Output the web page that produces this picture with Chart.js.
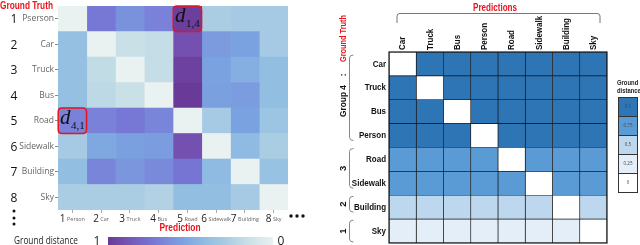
<!DOCTYPE html>
<html>
<head>
<meta charset="utf-8">
<script src="https://cdn.jsdelivr.net/npm/chart.js@4/dist/chart.umd.min.js"></script>
<style>
  html, body { margin: 0; padding: 0; background: #fff; }
  #wrap { position: relative; width: 640px; height: 245px; overflow: hidden; }
  #left { position: absolute; left: 0; top: 0; }
  #right { position: absolute; left: 320px; top: 0; }
</style>
</head>
<body>
<div id="wrap">
  <canvas id="left" width="320" height="245"></canvas>
  <canvas id="right" width="320" height="245"></canvas>
</div>
<script>
// ---------------- LEFT HEATMAP DATA ----------------
const leftRowLabels = ['Pserson', 'Car', 'Truck', 'Bus', 'Road', 'Sidewalk', 'Building', 'Sky'];
const leftColLabels = ['Person', 'Car', 'Truck', 'Bus', 'Road', 'Sidewalk', 'Building', 'Sky'];
const leftNumbers = ['1', '2', '3', '4', '5', '6', '7', '8'];
// ground distance (rows = ground truth, cols = prediction)
const leftValues = [
  [0.00, 0.72, 0.62, 0.68, 0.98, 0.28, 0.30, 0.30],
  [0.38, 0.00, 0.15, 0.17, 0.90, 0.58, 0.55, 0.30],
  [0.38, 0.18, 0.00, 0.17, 0.97, 0.55, 0.48, 0.40],
  [0.38, 0.20, 0.15, 0.00, 1.00, 0.56, 0.57, 0.40],
  [0.68, 0.68, 0.72, 0.67, 0.00, 0.30, 0.55, 0.35],
  [0.30, 0.52, 0.56, 0.57, 0.90, 0.00, 0.42, 0.28],
  [0.40, 0.67, 0.60, 0.65, 0.73, 0.42, 0.00, 0.37],
  [0.28, 0.28, 0.28, 0.25, 0.40, 0.40, 0.30, 0.00]
];
const leftHighlights = [
  { row: 0, col: 4, sub: '1,4' },
  { row: 4, col: 0, sub: '4,1' }
];
const colorbarLabels = ['1', '0'];
const colormapStops = [
  [0.00, '#E9F1F1'], [0.15, '#C9E0E7'], [0.30, '#A6CAE3'], [0.40, '#92BEE2'],
  [0.55, '#7BA2E0'], [0.65, '#7A8ADA'], [0.72, '#7777D6'], [0.90, '#7450B0'], [1.00, '#6A3A98']
];

// ---------------- RIGHT MATRIX DATA ----------------
const rightCats = ['Car', 'Truck', 'Bus', 'Person', 'Road', 'Sidewalk', 'Building', 'Sky'];
const rightValues = [
  [0, 1, 1, 1, 1, 1, 1, 1],
  [1, 0, 1, 1, 1, 1, 1, 1],
  [1, 1, 0, 1, 1, 1, 1, 1],
  [1, 1, 1, 0, 1, 1, 1, 1],
  [0.75, 0.75, 0.75, 0.75, 0, 0.75, 0.75, 0.75],
  [0.75, 0.75, 0.75, 0.75, 0.75, 0, 0.75, 0.75],
  [0.5, 0.5, 0.5, 0.5, 0.5, 0.5, 0, 0.5],
  [0.25, 0.25, 0.25, 0.25, 0.25, 0.25, 0.25, 0]
];
const groups = [
  { label: '3', from: 4, to: 5 },
  { label: '2', from: 6, to: 6 },
  { label: '1', from: 7, to: 7 }
];
const legendLabels = ['0.1', '0.75', '0.5', '0.25', '0'];
const legendValues = [1, 0.75, 0.5, 0.25, 0];
const rightPalette = { '1': '#2E75B6', '0.75': '#5B9BD5', '0.5': '#BDD7EE', '0.25': '#E4EEF9', '0': '#FFFFFF' };

// ---------------- HELPERS ----------------
function hexToRgb(h) { const n = parseInt(h.slice(1), 16); return [(n >> 16) & 255, (n >> 8) & 255, n & 255]; }
function cmap(v) {
  for (let i = 0; i < colormapStops.length - 1; i++) {
    const [a, ca] = colormapStops[i], [b, cb] = colormapStops[i + 1];
    if (v >= a && v <= b) {
      const t = (v - a) / (b - a), A = hexToRgb(ca), B = hexToRgb(cb);
      return 'rgb(' + A.map((x, k) => Math.round(x + (B[k] - x) * t)).join(',') + ')';
    }
  }
  return colormapStops[colormapStops.length - 1][1];
}
function roundRect(ctx, x, y, w, h, r) {
  ctx.beginPath();
  ctx.moveTo(x + r, y); ctx.lineTo(x + w - r, y); ctx.quadraticCurveTo(x + w, y, x + w, y + r);
  ctx.lineTo(x + w, y + h - r); ctx.quadraticCurveTo(x + w, y + h, x + w - r, y + h);
  ctx.lineTo(x + r, y + h); ctx.quadraticCurveTo(x, y + h, x, y + h - r);
  ctx.lineTo(x, y + r); ctx.quadraticCurveTo(x, y, x + r, y); ctx.closePath();
}
// draw text horizontally condensed (Calibri-like narrow look) at (x,y) in rotated frame
function drawText(ctx, text, x, y, font, sx, align, baseline, angle) {
  ctx.save();
  ctx.translate(x, y);
  if (angle) ctx.rotate(angle);
  ctx.scale(sx, 1);
  ctx.font = font; ctx.textAlign = align || 'left'; ctx.textBaseline = baseline || 'alphabetic';
  ctx.fillText(text, 0, 0);
  ctx.restore();
}
function fitScale(ctx, text, font, width) { ctx.save(); ctx.font = font; const w = ctx.measureText(text).width; ctx.restore(); return width / w; }
const BOLD = '"Liberation Sans", "Noto Sans", sans-serif';
const SANS = '"Open Sans", "Noto Sans", sans-serif';
const RED = '#E8141B';

// ---------------- LEFT CHART ----------------
const leftPlugin = {
  id: 'leftDecor',
  afterDraw(chart) {
    const ctx = chart.ctx, xs = chart.scales.x, ys = chart.scales.y, ca = chart.chartArea;
    const rowH = ca.height / leftRowLabels.length;
    ctx.save();
    // row numbers
    ctx.fillStyle = '#111'; ctx.font = '12px ' + SANS; ctx.textAlign = 'center'; ctx.textBaseline = 'middle';
    leftRowLabels.forEach((_, i) => ctx.fillText(leftNumbers[i], 14, ys.getPixelForValue(i) + 1));
    // column labels: number + small name
    ctx.textBaseline = 'alphabetic';
    leftColLabels.forEach((name, j) => {
      const cx = xs.getPixelForValue(j + 0.5);
      ctx.font = '10px ' + SANS; const wn = ctx.measureText(leftNumbers[j]).width;
      ctx.font = '5.5px ' + SANS; const wl = ctx.measureText(name).width;
      const gap = 1.5, total = wn + gap + wl, x0 = cx - total / 2;
      ctx.textAlign = 'left';
      ctx.fillStyle = '#222'; ctx.font = '10px ' + SANS; ctx.fillText(leftNumbers[j], x0, 222);
      ctx.fillStyle = '#666'; ctx.font = '5.5px ' + SANS; ctx.fillText(name, x0 + wn + gap, 221);
    });
    // axis titles
    ctx.fillStyle = RED;
    let f = 'bold 10px ' + BOLD;
    drawText(ctx, 'Ground Truth', 0, 8.5, f, fitScale(ctx, 'Ground Truth', f, 53), 'left');
    drawText(ctx, 'Prediction', 180, 231, f, fitScale(ctx, 'Prediction', f, 41), 'center');
    // ellipsis dots
    ctx.fillStyle = '#111';
    [211, 218, 224].forEach(y => { ctx.beginPath(); ctx.arc(14, y, 1.5, 0, Math.PI * 2); ctx.fill(); });
    [291, 297, 303].forEach(x => { ctx.beginPath(); ctx.arc(x, 216, 1.7, 0, Math.PI * 2); ctx.fill(); });
    // highlight boxes
    leftHighlights.forEach(hl => {
      const x1 = xs.getPixelForValue(hl.col), x2 = xs.getPixelForValue(hl.col + 1);
      const yc = ys.getPixelForValue(hl.row), y1 = Math.max(0.8, yc - rowH / 2), y2 = yc + rowH / 2;
      ctx.strokeStyle = RED; ctx.lineWidth = 1.5;
      roundRect(ctx, x1 + 0.2, y1, x2 - x1 - 0.4, y2 - y1, 4); ctx.stroke();
      ctx.fillStyle = '#111'; ctx.textAlign = 'left'; ctx.textBaseline = 'alphabetic';
      ctx.font = 'italic 21px "Liberation Serif", "DejaVu Serif", serif';
      ctx.fillText('d', x1 + 2, yc + 3);
      const wd = ctx.measureText('d').width;
      ctx.font = '11px "Liberation Serif", "DejaVu Serif", serif';
      ctx.fillText(hl.sub, x1 + 2 + wd + 0.5, yc + 8);
    });
    // colour bar
    const bx1 = 108, bx2 = 273;
    const g = ctx.createLinearGradient(bx1, 0, bx2, 0);
    for (let k = 0; k <= 20; k++) { const t = k / 20; g.addColorStop(t, cmap(1 - t)); }
    ctx.fillStyle = g; ctx.fillRect(bx1, 237, bx2 - bx1, 8);
    ctx.fillStyle = '#222';
    f = '10px ' + SANS;
    drawText(ctx, 'Ground distance', 14, 244, f, fitScale(ctx, 'Ground distance', f, 64), 'left');
    ctx.font = '12px ' + SANS; ctx.textAlign = 'center'; ctx.textBaseline = 'alphabetic';
    ctx.fillText(colorbarLabels[0], 97, 245);
    ctx.fillText(colorbarLabels[1], 281, 245);
    ctx.restore();
  }
};

new Chart(document.getElementById('left'), {
  type: 'bar',
  data: {
    labels: leftRowLabels,
    datasets: leftColLabels.map((c, j) => ({
      label: c,
      data: leftRowLabels.map(() => 1),
      backgroundColor: leftValues.map(r => cmap(r[j])),
      borderWidth: 0,
      barPercentage: 1,
      categoryPercentage: 1
    }))
  },
  options: {
    indexAxis: 'y',
    responsive: false,
    animation: false,
    devicePixelRatio: 1,
    layout: { padding: { left: 0, right: 32, top: 0, bottom: 0 } },
    plugins: { legend: { display: false }, tooltip: { enabled: false } },
    scales: {
      x: {
        stacked: true, min: 0, max: leftColLabels.length, position: 'bottom',
        afterBuildTicks: s => { s.ticks = leftColLabels.map((_, j) => ({ value: j + 0.5 })); },
        ticks: { display: false },
        grid: { display: true, drawOnChartArea: false, tickLength: 3, color: '#aaa' },
        border: { display: false },
        afterFit: s => { s.height = 35; }
      },
      y: {
        stacked: true,
        ticks: { color: '#666', font: { size: 8.5, family: SANS }, padding: 1 },
        grid: { display: true, drawOnChartArea: false, offset: false, tickLength: 3, color: '#888' },
        border: { display: false },
        afterFit: s => { s.width = 58; }
      }
    }
  },
  plugins: [leftPlugin]
});

// ---------------- RIGHT CHART ----------------
function brace(ctx, x, y1, y2) {
  ctx.beginPath();
  ctx.moveTo(x + 4, y1); ctx.quadraticCurveTo(x, y1, x, y1 + 3);
  ctx.lineTo(x, y2 - 3); ctx.quadraticCurveTo(x, y2, x + 4, y2);
  ctx.stroke();
}
const rightPlugin = {
  id: 'rightDecor',
  afterDraw(chart) {
    const ctx = chart.ctx, xs = chart.scales.x, ys = chart.scales.y, ca = chart.chartArea;
    const rowH = ca.height / rightCats.length;
    const top = i => ys.getPixelForValue(i) - rowH / 2, bot = i => ys.getPixelForValue(i) + rowH / 2;
    const LF = 'bold 9.5px ' + BOLD, SX = 0.84;
    ctx.save();
    // outer border
    ctx.strokeStyle = '#1a1a1a'; ctx.lineWidth = 1.2;
    ctx.strokeRect(ca.left, ca.top, ca.width, ca.height);
    // row labels
    ctx.fillStyle = '#111';
    rightCats.forEach((c, i) => drawText(ctx, c, ca.left - 3, ys.getPixelForValue(i), LF, SX, 'right', 'middle'));
    // column labels (rotated)
    rightCats.forEach((c, j) => drawText(ctx, c, xs.getPixelForValue(j + 0.5), ca.top - 2, LF, SX, 'left', 'middle', -Math.PI / 2));
    // Predictions title + brace
    ctx.fillStyle = RED;
    let f = 'bold 10px ' + BOLD;
    drawText(ctx, 'Predictions', 175, 8, f, fitScale(ctx, 'Predictions', f, 44), 'center', 'middle');
    ctx.strokeStyle = '#777'; ctx.lineWidth = 1;
    ctx.beginPath();
    ctx.moveTo(77, 23); ctx.lineTo(77, 16); ctx.quadraticCurveTo(77, 13.5, 80, 13.5);
    ctx.lineTo(277, 13.5); ctx.quadraticCurveTo(280, 13.5, 280, 16); ctx.lineTo(280, 23);
    ctx.stroke();
    // vertical title: Group 4 : Ground Truth
    ctx.fillStyle = '#111';
    drawText(ctx, 'Group 4', 23, 117, LF, fitScale(ctx, 'Group 4', LF, 32), 'left', 'middle', -Math.PI / 2);
    drawText(ctx, ':', 23, 75, LF, 1, 'center', 'middle', -Math.PI / 2);
    ctx.fillStyle = RED;
    drawText(ctx, 'Ground Truth', 23, 62, LF, fitScale(ctx, 'Ground Truth', LF, 47), 'left', 'middle', -Math.PI / 2);
    // group braces and labels
    ctx.strokeStyle = '#888';
    brace(ctx, 29.5, top(0) + 3, bot(3) - 7);
    groups.forEach(gp => {
      const y1 = top(gp.from) + 1, y2 = bot(gp.to) - (gp.to === rightCats.length - 1 ? 1 : 7);
      brace(ctx, 29.5, y1, y2);
      ctx.fillStyle = '#111';
      drawText(ctx, gp.label, 23, (y1 + y2) / 2, LF, 1, 'center', 'middle', -Math.PI / 2);
    });
    // legend
    ctx.fillStyle = '#222';
    f = 'bold 7px ' + BOLD;
    drawText(ctx, 'Ground', 297, 85, f, 0.84, 'left');
    drawText(ctx, 'distance', 297, 93, f, 0.84, 'left');
    legendLabels.forEach((lab, i) => {
      const y = 97 + i * 19;
      ctx.fillStyle = rightPalette[String(legendValues[i])];
      ctx.fillRect(298, y, 19, 19);
      ctx.strokeStyle = '#333'; ctx.lineWidth = 1; ctx.strokeRect(298.5, y + 0.5, 19, 19);
      ctx.fillStyle = '#444'; ctx.font = '4.5px ' + SANS; ctx.textAlign = 'center'; ctx.textBaseline = 'middle';
      ctx.fillText(lab, 308, y + 10);
    });
    ctx.restore();
  }
};

new Chart(document.getElementById('right'), {
  type: 'bar',
  data: {
    labels: rightCats,
    datasets: rightCats.map((c, j) => ({
      label: c,
      data: rightCats.map(() => 1),
      backgroundColor: rightValues.map(r => rightPalette[String(r[j])]),
      borderColor: '#1a1a1a',
      borderWidth: 0.7,
      borderSkipped: false,
      barPercentage: 1,
      categoryPercentage: 1
    }))
  },
  options: {
    indexAxis: 'y',
    responsive: false,
    animation: false,
    devicePixelRatio: 1,
    layout: { padding: { left: 0, right: 33, top: 52, bottom: 2 } },
    plugins: { legend: { display: false }, tooltip: { enabled: false } },
    scales: {
      x: { stacked: true, min: 0, max: rightCats.length, display: false },
      y: {
        stacked: true,
        ticks: { display: false },
        grid: { display: false }, border: { display: false },
        afterFit: s => { s.width = 69; }
      }
    }
  },
  plugins: [rightPlugin]
});
</script>
</body>
</html>
